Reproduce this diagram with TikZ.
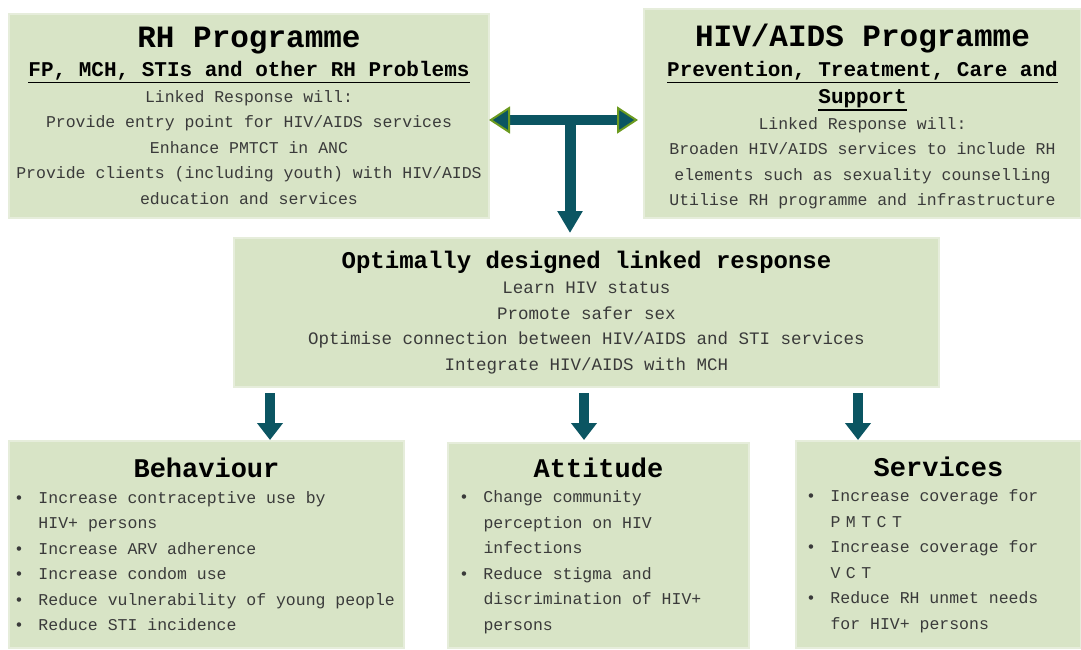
\documentclass[tikz,border=0pt]{standalone}
\usepackage{fontspec}
\newfontfamily\boxfont{Liberation Mono}
\usetikzlibrary{calc,arrows.meta}

\definecolor{boxfill}{HTML}{D8E4C6}
\definecolor{boxrim}{HTML}{E6EDDB}
\definecolor{linkteal}{HTML}{0B5562}
\definecolor{linkgreen}{HTML}{6B9A1F}
\definecolor{bodygray}{HTML}{3A3A3A}

% text sizes used inside the boxes (full width spaces, as in a typewriter)
\newcommand{\boxsize}[2]{\fontsize{#1}{#2}\selectfont\spaceskip=.6em\relax\xspaceskip=.6em\relax}
\newcommand{\boxtitle}{\boxsize{31}{31}\bfseries}
\newcommand{\boxsub}{\boxsize{21}{27}\bfseries}
\newcommand{\boxbody}{\boxsize{16.5}{25.5}\color{bodygray}}
% thick underline for the sub headings
\newcommand{\subul}[1]{\leavevmode\vtop{\hbox{#1}\kern1.6pt\hrule height 1.1pt}}
% bullet item with hanging indent
\newcommand{\itm}[1]{\par\hangindent=24.5pt\hangafter=1\noindent\makebox[24.5pt][l]{\textbullet}#1}

\begin{document}
\begin{tikzpicture}[x=1pt, y=-1pt,
    box/.style={draw=boxrim, line width=2pt, fill=boxfill, anchor=north west,
      font=\boxfont, text=black, inner ysep=0pt},
    downarrow/.style={draw=linkteal, line width=10pt,
      -{Triangle[length=17pt, width=25pt]}},
    >={Triangle[length=21pt, width=27pt, fill=linkteal, color=linkgreen, line width=2pt]}]

      % page frame (1081 x 649)
      \useasboundingbox (0,0) rectangle (1081,649);

      % Top left: RH programme
      \node[box, inner xsep=6pt, text width=468pt, minimum height=204pt, align=center] (rh) at (8,13) {%
        {\boxtitle RH Programme\par}\vspace{2pt}
        {\boxsub\subul{FP, MCH, STIs and other RH Problems}\par}
        {\boxbody Linked Response will:\\
          Provide entry point for HIV/AIDS services\\
          Enhance PMTCT in ANC\\
          Provide clients (including youth) with HIV/AIDS\\
          education and services\par}};

      % Top right: HIV/AIDS programme
      \node[box, inner xsep=6pt, text width=425pt, minimum height=209pt, align=center] (hiv) at (643,8) {%
        {\boxtitle HIV/AIDS Programme\par}\vspace{3pt}
        {\boxsub\subul{Prevention, Treatment, Care and}\\\subul{Support}\par}
        {\boxbody Linked Response will:\\
          Broaden HIV/AIDS services to include RH\\
          elements such as sexuality counselling\\
          Utilise RH programme and infrastructure\par}\vspace*{-6pt}};

      % Middle: the linked response
      \node[box, inner xsep=6pt, text width=693pt, minimum height=149pt, align=center] (mid) at (233,237) {%
        {\boxsize{24}{24}\bfseries Optimally designed linked response\par}
        {\boxsize{17.5}{25.5}\color{bodygray} Learn HIV status\\
          Promote safer sex\\
          Optimise connection between HIV/AIDS and STI services\\
          Integrate HIV/AIDS with MCH\par}};

      % Bottom row: outcomes
      \node[box, inner xsep=5pt, text width=385pt, minimum height=207pt, align=left] (beh) at (8,440) {%
        {\centering\boxsize{27}{27}\bfseries Behaviour\par}
        \boxbody
        \itm{Increase contraceptive use by\newline HIV+ persons}
        \itm{Increase ARV adherence}
        \itm{Increase condom use}
        \itm{Reduce vulnerability of young people}
        \itm{Reduce STI incidence}\par};
      \node[box, inner xsep=11pt, text width=279pt, minimum height=205pt, align=left] (att) at (447,442) {%
        {\centering\boxsize{27}{27}\bfseries Attitude\par}
        \boxbody
        \itm{Change community\newline perception on HIV\newline infections}
        \itm{Reduce stigma and\newline discrimination of HIV+\newline persons}\par};
      \node[box, inner xsep=10pt, text width=265pt, minimum height=207pt, align=left] (srv) at (795,440) {%
        {\centering\boxsize{27}{27}\bfseries Services\par}
        \boxbody
        \itm{Increase coverage for\newline P\kern5.5pt M\kern5.5pt T\kern5.5pt C\kern5.5pt T}
        \itm{Increase coverage for\newline V\kern5.5pt C\kern5.5pt T}
        \itm{Reduce RH unmet needs\newline for HIV+ persons}\par};

      % T shaped link between the two programmes
      \coordinate (tee) at (570,120);
      \draw[draw=linkteal, line width=11pt, -{Triangle[length=22pt, width=24pt]}, shorten >=4pt]
        (tee) -- (tee |- mid.north);
      \draw[draw=linkteal, line width=10pt, <->, shorten <=-1pt, shorten >=5pt]
        (tee -| rh.east) -- (tee -| hiv.west);

      % arrows down to the outcome boxes
      \coordinate (d1) at (270,0);
      \coordinate (d2) at (584,0);
      \coordinate (d3) at (858,0);
      \draw[downarrow, shorten <=5pt] (d1 |- mid.south) -- (d1 |- beh.north);
      \draw[downarrow, shorten <=5pt, shorten >=2pt] (d2 |- mid.south) -- (d2 |- att.north);
      \draw[downarrow, shorten <=5pt] (d3 |- mid.south) -- (d3 |- srv.north);

    \end{tikzpicture}
\end{document}
